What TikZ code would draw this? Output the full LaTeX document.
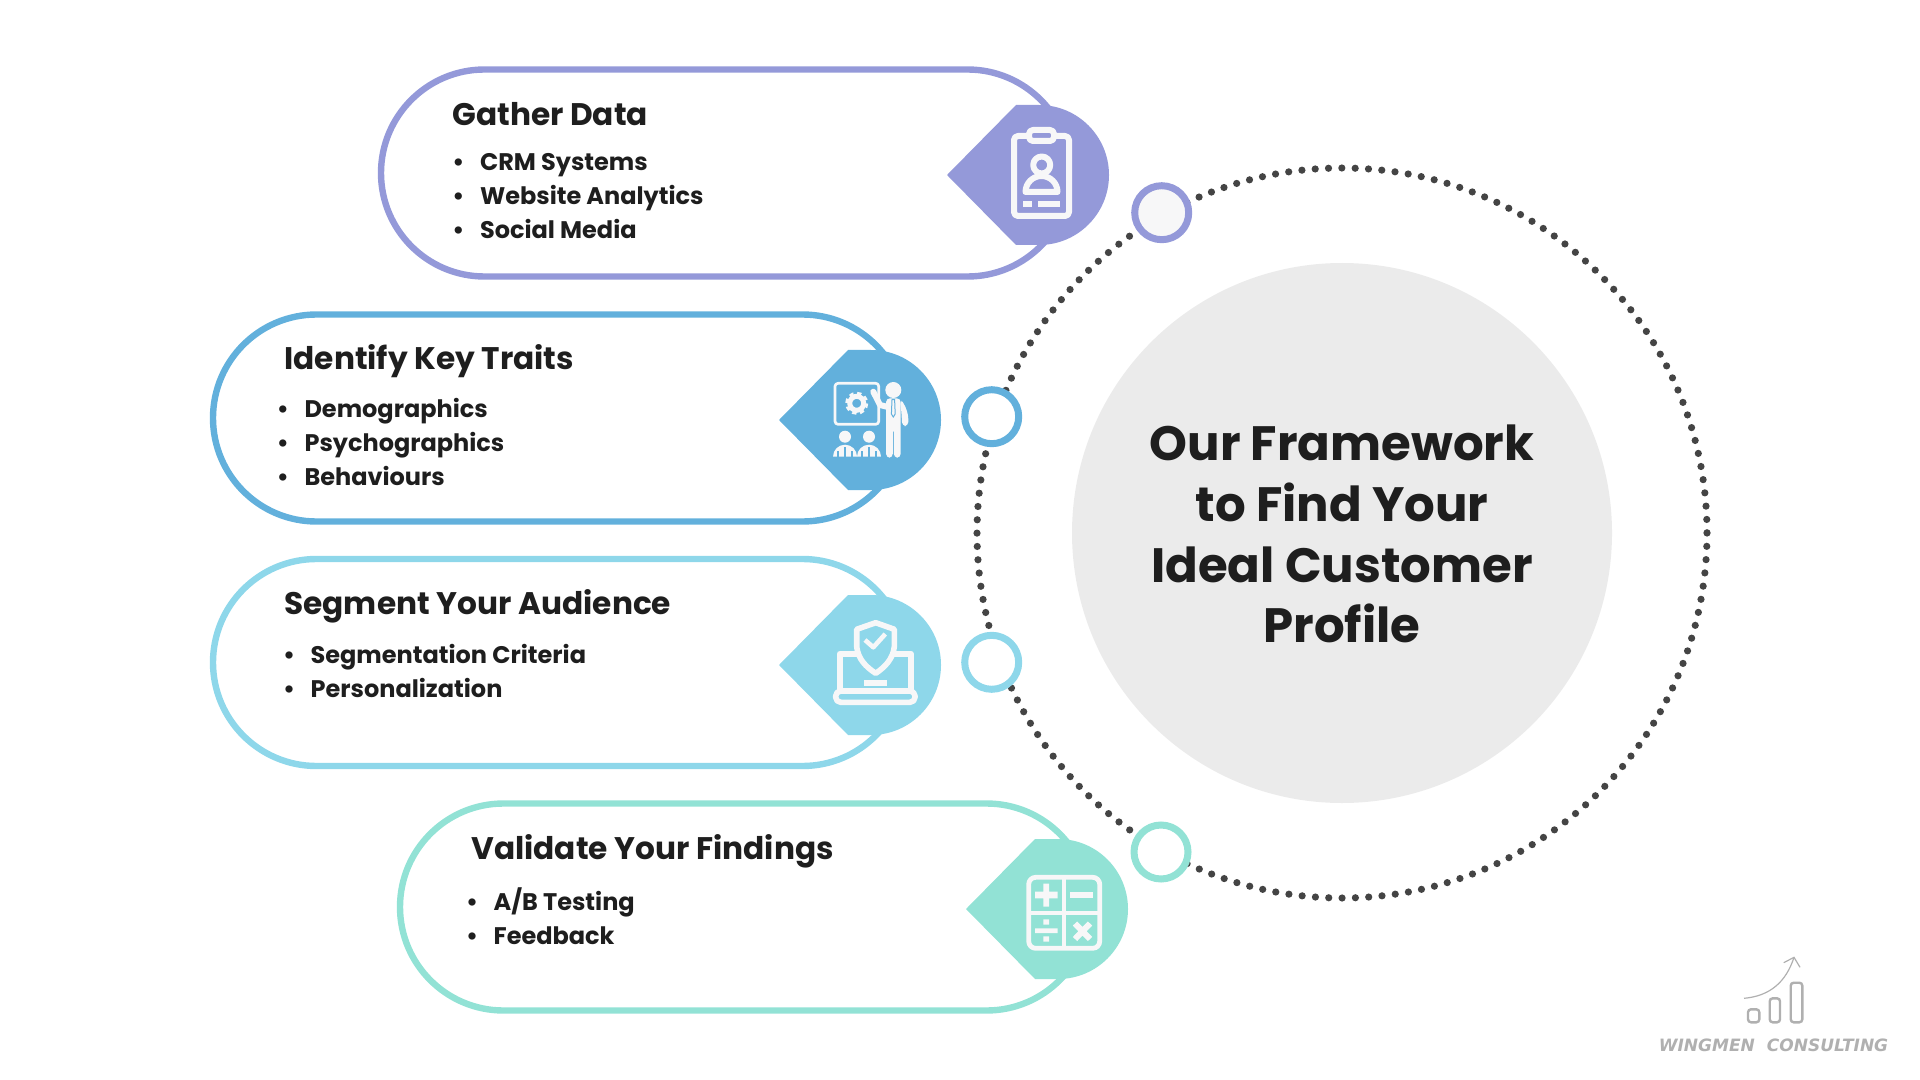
\documentclass[tikz,border=0pt]{standalone}
\usepackage{fontspec}
\setmainfont{Poppins}
\newfontfamily\logofont{DejaVu Sans}
\usetikzlibrary{shapes.misc}
\definecolor{dotgray}{HTML}{444444}
\definecolor{inkblack}{HTML}{1E1E1E}
\definecolor{discgray}{HTML}{EBEBEB}
\definecolor{iconwhite}{HTML}{F7F7F8}
\definecolor{logogray}{HTML}{B0B0B0}
\definecolor{gathercol}{HTML}{9499D9}
\definecolor{traitcol}{HTML}{62B0DC}
\definecolor{segmentcol}{HTML}{8ED7EA}
\definecolor{validcol}{HTML}{92E2D5}
\tikzset{
  pill/.style={draw=#1, line width=3.2pt, shape=rounded rectangle, minimum height=103.5pt, inner sep=0pt, outer sep=0pt},
  ring/.style={circle, draw=#1, line width=3.5pt, fill=iconwhite, minimum size=27pt, inner sep=0pt},
  head/.style={anchor=base west, font=\bfseries\fontsize{15.6}{18}\selectfont, text=inkblack, inner sep=0pt},
  items/.style={anchor=north west, font=\bfseries\fontsize{12}{17}\selectfont, text=inkblack, inner sep=0pt, align=left},
  iconline/.style={draw=iconwhite, line width=3pt, line join=round},
  iconfill/.style={fill=iconwhite, draw=none}
}
\newcommand{\badge}[4]{% x y colour name
  \fill[#3] (#1-92,#2) -- (#1-23,#2-70) -- (#1,#2-70) arc[start angle=-90, end angle=90, radius=70] -- (#1-23,#2+70) -- cycle;
  \coordinate (#4) at (#1,#2);
}
\newcommand{\bulletlist}[3]{% x y lines
  \node[items] at (#1,#2) {#3};
}
\begin{document}
\begin{tikzpicture}[x=0.5pt, y=-0.5pt]
  \useasboundingbox (0,0) rectangle (1920,1080);
  % dotted ring and centre
  \node[circle, minimum size=270pt, fill=discgray, inner sep=0pt] (centre) at (1342,533) {};
  \node[align=center, inner sep=0pt, font=\bfseries\fontsize{24.1}{30.4}\selectfont, text=inkblack] (centretext) at (1342,534)
    {Our Framework\\to Find Your\\Ideal Customer\\Profile};
  \draw[dotgray, line width=3.6pt, line cap=round, dash pattern=on 0pt off 6.667pt] (centre) circle[radius=365];
  % pills
  \node[pill=gathercol, minimum width=345pt] (gather) at (726,173) {};
  \node[pill=traitcol, minimum width=346.5pt] (trait) at (559.5,418) {};
  \node[pill=segmentcol, minimum width=346.5pt] (segment) at (559.5,662.5) {};
  \node[pill=validcol, minimum width=345pt] (valid) at (745,907) {};
  % badges
  \badge{1039}{175}{gathercol}{gatherbadge}
  \badge{871}{420}{traitcol}{traitbadge}
  \badge{871}{665}{segmentcol}{segmentbadge}
  \badge{1058}{909}{validcol}{validbadge}
  % rings on the dotted circle
  \node[ring=gathercol] (ringa) at (1161.7,212.7) {};
  \node[ring=traitcol, fill=white] (ringb) at (991.7,416.7) {};
  \node[ring=segmentcol, fill=white] (ringc) at (991.7,662.3) {};
  \node[ring=validcol, fill=white] (ringd) at (1161,852) {};
  % texts
  \node[head] (gatherhead) at (452,126) {Gather Data};
  \bulletlist{452}{153}{\textbullet\hspace{7.8pt}CRM Systems\\\textbullet\hspace{7.8pt}Website Analytics\\\textbullet\hspace{7.8pt}Social Media}
  \node[head] (traithead) at (284,370) {Identify Key Traits};
  \bulletlist{276.5}{398}{\textbullet\hspace{7.8pt}Demographics\\\textbullet\hspace{7.8pt}Psychographics\\\textbullet\hspace{7.8pt}Behaviours}
  \node[head] (segmenthead) at (284,614) {Segment Your Audience};
  \bulletlist{282.6}{644}{\textbullet\hspace{7.8pt}Segmentation Criteria\\\textbullet\hspace{7.8pt}Personalization}
  \node[head] (validhead) at (471,859) {Validate Your Findings};
  \bulletlist{465.6}{887}{\textbullet\hspace{7.8pt}A/B Testing\\\textbullet\hspace{7.8pt}Feedback}
  % clipboard icon
  \begin{scope}[shift={(gatherbadge)}]
    \draw[iconline, rounded corners=2pt] (-25,-39) rectangle (30,41);
    \draw[iconline, fill=gathercol, rounded corners=2pt] (-10,-45) rectangle (15,-34);
    \draw[iconline] (2.7,-10) circle[radius=8.5];
    \draw[iconline] (-13.5,17) arc[start angle=180, end angle=360, radius=16] -- cycle;
    \fill[iconfill] (-16.3,26) rectangle (-7,32.3);
    \fill[iconfill] (-1,26) rectangle (21,32.3);
  \end{scope}
  % presenter icon
  \begin{scope}[shift={(traitbadge)}]
    \draw[iconline, line width=1.35pt, rounded corners=1.5pt] (-36,-36.7) rectangle (7.7,4.3);
    \draw[draw=iconwhite, line width=2pt, dash pattern=on 2pt off 1.73pt] (-14.3,-16.7) circle[radius=9.5];
    \draw[iconline, line width=2.5pt] (-14.3,-16.7) circle[radius=7];
    \fill[iconfill] (22.3,-30) circle[radius=8];
    \fill[iconfill, rounded corners=2pt] (15,-21.7) -- (29.7,-21.7) -- (29.7,37.7) -- (22.8,37.7) -- (22.8,8) -- (21.8,8) -- (21.8,37.7) -- (15,37.7) -- cycle;
    \fill[iconfill, rounded corners=2pt] (29,-20) -- (33,-17) -- (37.3,-5) -- (37.3,6) -- (31,6) -- (30.7,-5) -- cycle;
    \draw[iconline, line cap=round] (17,-13) -- (9,-15) -- (2.3,-28.3);
    \draw[traitcol, line width=0.5pt, fill=iconwhite] (21,-20.5) -- (23.6,-20.5) -- (24.2,-6) -- (22.3,-3) -- (20.4,-6) -- cycle;
    \fill[iconfill] (-26,16.7) circle[radius=6];
    \fill[iconfill] (-2,16.7) circle[radius=6];
    \fill[iconfill] (-38,36.7) arc[start angle=180, end angle=360, radius=12] -- cycle;
    \fill[iconfill] (-14,36.7) arc[start angle=180, end angle=360, radius=12] -- cycle;
    \draw[traitcol, line width=0.7pt] (-26,27) -- (-26,36.7) (-2,27) -- (-2,36.7) (-33,31) -- (-33,36.7) (-19,31) -- (-19,36.7) (-9,31) -- (-9,36.7) (5,31) -- (5,36.7);
  \end{scope}
  % laptop icon
  \begin{scope}[shift={(segmentbadge)}]
    \draw[iconline, line width=2.8pt] (-31.3,26) -- (-31.3,-11.3) -- (-12,-11.3) (20,-11.3) -- (40,-11.3) -- (40,26);
    \draw[iconline, line width=2.8pt, fill=segmentcol] (-14.3,-35.7) -- (4.7,-42.3) -- (23.3,-35.7) -- (23.3,-18.3) .. controls (22,-6) and (14,2) .. (4.7,8.3) .. controls (-5,2) and (-13,-6) .. (-14.3,-18.3) -- cycle;
    \draw[iconline, line width=2.3pt] (-6,-25) -- (2.3,-17.7) -- (14.3,-31);
    \fill[iconfill] (-7,15) rectangle (16,20.7);
    \draw[iconline, line width=2.8pt, rounded corners=2.5pt] (-35.3,26) rectangle (44,37.3);
  \end{scope}
  % calculator icon
  \begin{scope}[shift={(validbadge)}]
    \draw[iconline, line width=2.4pt, rounded corners=3.5pt] (-29.3,-31.7) rectangle (41.7,39.3);
    \draw[iconline, line width=2.4pt] (6,-31.7) -- (6,39.3) (-29.3,4) -- (41.7,4);
    \fill[iconfill] (-23,-17.3) rectangle (-0.3,-10.7) (-14.7,-25.3) rectangle (-9,-2.3);
    \fill[iconfill] (12.3,-16.7) rectangle (35.3,-10.7);
    \fill[iconfill] (-23,19.3) rectangle (-0.3,24) (-14.7,10.3) rectangle (-9,15.7) (-14.7,27.3) rectangle (-9,32.7);
    \draw[iconline] (17,14.5) -- (32,30) (32,14.5) -- (17,30);
  \end{scope}
  % logo
  \begin{scope}[logogray]
    \draw[line width=0.6pt] (1744,998.3) .. controls (1770,996) and (1786,982) .. (1794,957.3);
    \draw[line width=0.6pt] (1783.7,962.7) -- (1794,957.3) -- (1800,967.3);
    \draw[line width=1.2pt, rounded corners=1.5pt] (1748,1009.3) rectangle (1759.3,1022.3);
    \draw[line width=1.2pt, rounded corners=1.5pt] (1769.7,998.3) rectangle (1780,1022.3);
    \draw[line width=1.2pt, rounded corners=1.5pt] (1790.7,982.7) rectangle (1802.3,1022.3);
  \end{scope}
  \node[text=logogray, font=\logofont\bfseries\itshape\fontsize{8.5}{10}\selectfont, inner sep=0pt] (logotext) at (1773.5,1045) {WINGMEN\hspace{6pt}CONSULTING};
\end{tikzpicture}
\end{document}
